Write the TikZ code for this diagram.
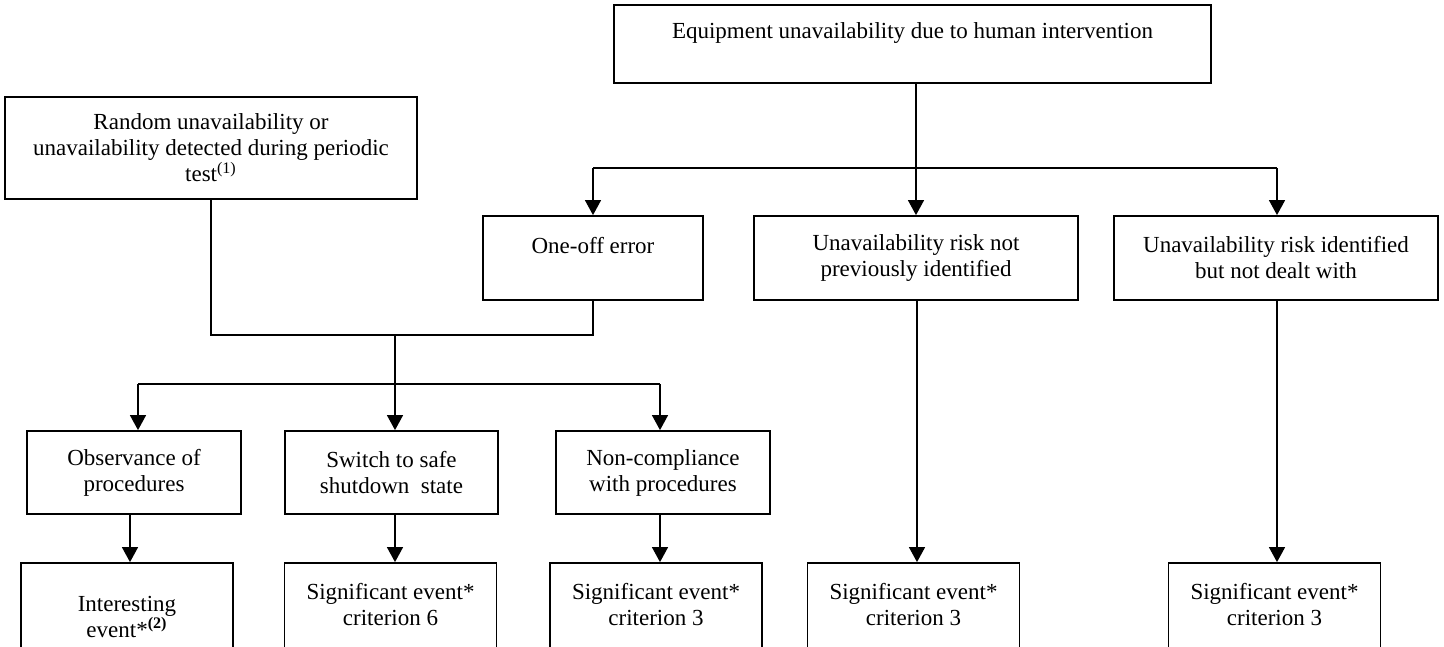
\documentclass[tikz,border=0pt]{standalone}
\usepackage{fontspec}
\setmainfont{Liberation Serif}
\usetikzlibrary{arrows.meta,calc}
\begin{document}
\begin{tikzpicture}[x=0.5pt,y=-0.5pt,
  box/.style={draw,line width=0.9pt,align=center,inner sep=0pt,font=\fontsize{11.5}{13}\selectfont},
  conn/.style={line width=0.7pt},
  arr/.style={conn,-{Triangle[width=8pt,length=7.5pt]}}]
\useasboundingbox (0,0) rectangle (1444,647);
% top level
\node[box,minimum width=298.5pt,minimum height=39pt] (E) at (912.5,44) {Equipment unavailability due to human intervention\\\mbox{}};
\node[box,minimum width=206pt,minimum height=51pt] (R) at (211,148) {Random unavailability or\\unavailability detected during periodic\\test\textsuperscript{(1)}};
% second row
\node[box,minimum width=110pt,minimum height=42pt] (One) at (593,258) {One-off error\\\mbox{}};
\node[box,minimum width=162pt,minimum height=42pt] (NP) at (916,258) {Unavailability risk not\\previously identified};
\node[box,minimum width=162pt,minimum height=42pt] (ID) at (1276,258) {Unavailability risk identified\\but not dealt with};
% third row
\node[box,minimum width=107pt,minimum height=41.5pt] (Obs) at (134,472.5) {Observance of\\procedures};
\node[box,minimum width=106.5pt,minimum height=41.5pt] (Sw) at (391.5,472.5) {Switch to safe\\shutdown~~state};
\node[box,minimum width=107pt,minimum height=41.5pt] (NC) at (663,472.5) {Non-compliance\\with procedures};
% bottom row
\node[box,minimum width=106pt,minimum height=54pt] (Int) at (127,617) {Interesting\\event*\textsuperscript{\textbf{(2)}}};
\node[box,minimum width=106pt,minimum height=54pt] (S6) at (390.5,617) {Significant event*\\criterion 6\\\mbox{}};
\node[box,minimum width=106pt,minimum height=54pt] (S3a) at (656,617) {Significant event*\\criterion 3\\\mbox{}};
\node[box,minimum width=106pt,minimum height=54pt] (S3b) at (913.5,617) {Significant event*\\criterion 3\\\mbox{}};
\node[box,minimum width=106pt,minimum height=54pt] (S3c) at (1274.5,617) {Significant event*\\criterion 3\\\mbox{}};
% junction coordinates
\coordinate (t1) at (593,168);
\coordinate (t2) at (916,168);
\coordinate (t3) at (1277,168);
\coordinate (m1) at (211,335);
\coordinate (m2) at (593,335);
\coordinate (m3) at (395,335);
\coordinate (b0) at (395,384);
\coordinate (b1) at (138,384);
\coordinate (b3) at (660,384);
\coordinate (c1) at (130,0);
\coordinate (c4) at (917,0);
% connectors
\draw[conn] (E.south -| t2) -- (t2);
\draw[conn] (t1) -- (t3);
\draw[arr] (t1) -- (t1 |- One.north);
\draw[arr] (t2) -- (t2 |- NP.north);
\draw[arr] (t3) -- (t3 |- ID.north);
\draw[conn] (R.south -| m1) -- (m1) -- (m2) -- (m2 |- One.south);
\draw[conn] (m3) -- (b0);
\draw[conn] (b1) -- (b3);
\draw[arr] (b1) -- (b1 |- Obs.north);
\draw[arr] (b0) -- (b0 |- Sw.north);
\draw[arr] (b3) -- (b3 |- NC.north);
\draw[arr] (c1 |- Obs.south) -- (c1 |- Int.north);
\draw[arr] (b0 |- Sw.south) -- (b0 |- S6.north);
\draw[arr] (b3 |- NC.south) -- (b3 |- S3a.north);
\draw[arr] (c4 |- NP.south) -- (c4 |- S3b.north);
\draw[arr] (t3 |- ID.south) -- (t3 |- S3c.north);
\end{tikzpicture}
\end{document}
